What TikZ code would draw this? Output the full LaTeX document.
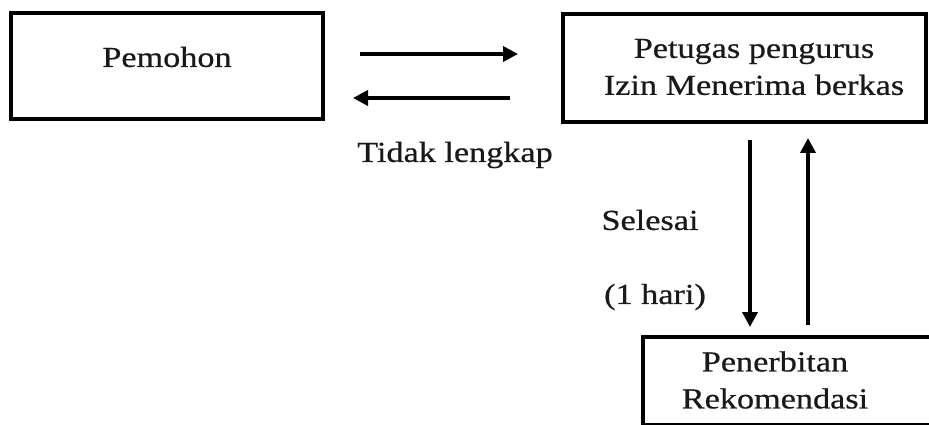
\documentclass[tikz,border=0pt]{standalone}
\usepackage{fontspec}
\setmainfont{Liberation Serif}[FakeStretch=1.18,FakeBold=0.6]
\usetikzlibrary{arrows.meta}
\begin{document}
\begin{tikzpicture}[x=1pt,y=-1pt,
  box/.style={draw=black,line width=3.2pt,rectangle,inner sep=0pt},
  lbl/.style={inner sep=0pt,font=\fontsize{29}{37}\selectfont,text=black!90,align=center},
  arr/.style={line width=3.6pt,-{Triangle[length=15pt,width=15pt]}}]
\useasboundingbox (0,0) rectangle (929,425);
\fill[white] (0,0) rectangle (929,425);
% boxes
\node[box,minimum width=312pt,minimum height=106pt] (pem) at (167,66) {};
\node[lbl] (pemt) at (167,57) {Pemohon};
\node[box,minimum width=363pt,minimum height=108pt] (pet) at (744.5,68) {};
\node[lbl] (pett) at (754,67) {Petugas pengurus\\Izin Menerima berkas};
\node[box,minimum width=290pt,minimum height=88pt] (pen) at (788,381) {};
\node[lbl] (pent) at (775,380) {Penerbitan\\Rekomendasi};
% arrow end points
\coordinate (r1) at (360,54);
\coordinate (r2) at (518,54);
\coordinate (l1) at (510,98);
\coordinate (l2) at (353,98);
\coordinate (d1) at (750,140);
\coordinate (d2) at (750,327);
\coordinate (u1) at (808,325);
\coordinate (u2) at (808,138);
\draw[arr] (r1) -- (r2);
\draw[arr] (l1) -- (l2);
\draw[arr] (d1) -- (d2);
\draw[arr] (u1) -- (u2);
% labels
\node[lbl] (tl) at (455,155) {Tidak lengkap};
\node[lbl] (sel) at (650,220) {Selesai};
\node[lbl] (hari) at (655,297) {(1 hari)};
\end{tikzpicture}
\end{document}
